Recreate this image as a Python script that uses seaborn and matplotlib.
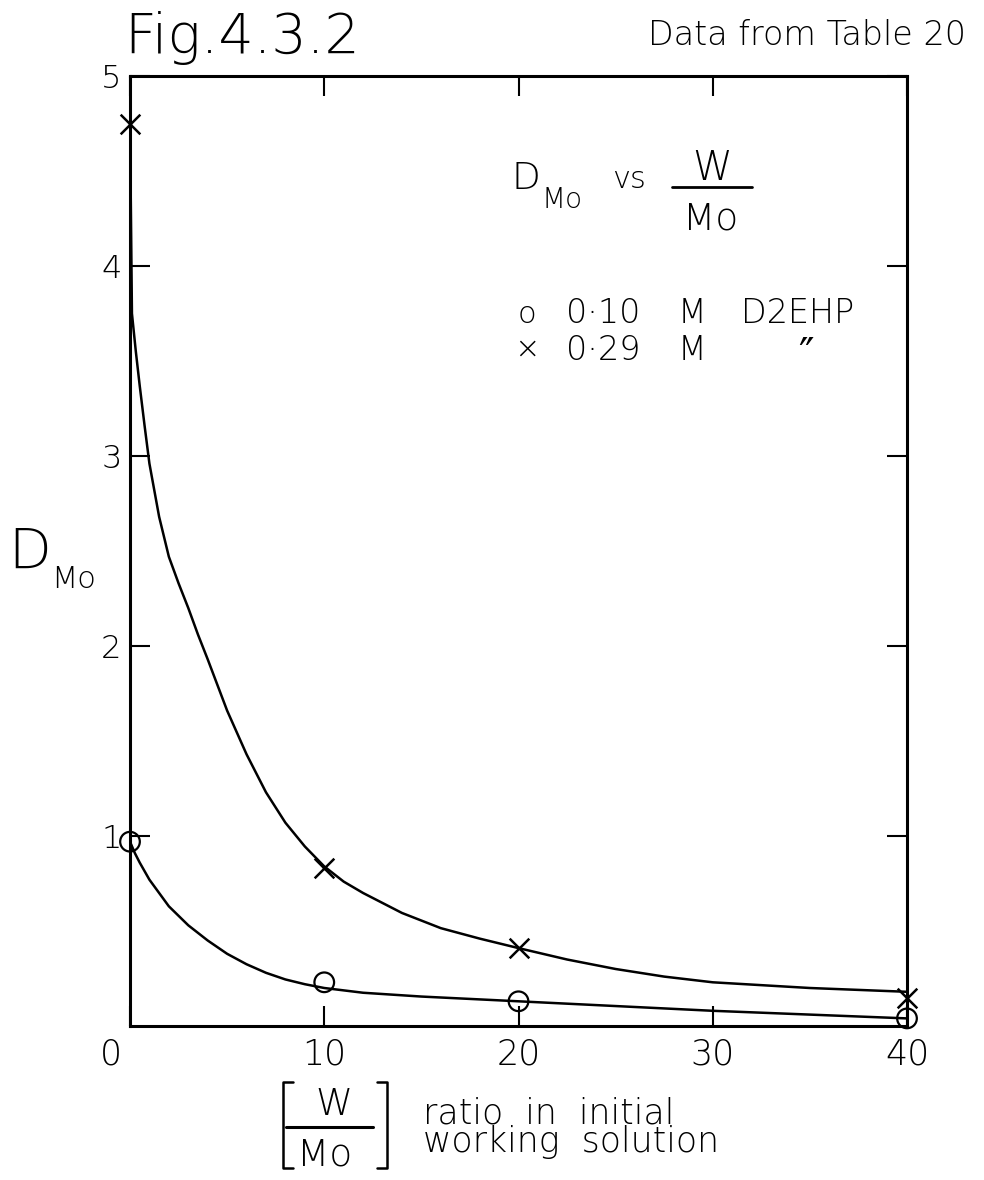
import numpy as np
import pandas as pd
import matplotlib
matplotlib.use("Agg")
import matplotlib.pyplot as plt
from matplotlib.lines import Line2D
import matplotlib.transforms as mtransforms
import seaborn as sns

# ---- data ----
ratio = [0, 10, 20, 40]
d_010 = [0.97, 0.23, 0.13, 0.04]   # o  0.10 M D2EHP
d_029 = [4.75, 0.83, 0.41, 0.15]   # x  0.29 M D2EHP

# hand-drawn fitted curves
curve_hi_x = [0, 0.1, 0.3, 0.5, 0.75, 1, 1.5, 2, 2.5, 3, 3.5, 4, 5, 6, 7, 8, 9, 10,
              11, 12, 14, 16, 18, 20, 22.5, 25, 27.5, 30, 35, 40]
curve_hi_y = [4.75, 3.75, 3.55, 3.37, 3.16, 2.96, 2.68, 2.47, 2.33, 2.2, 2.06, 1.93,
              1.66, 1.43, 1.23, 1.07, 0.945, 0.84, 0.76, 0.70, 0.595, 0.515, 0.46,
              0.41, 0.35, 0.30, 0.26, 0.23, 0.20, 0.18]
curve_lo_x = [0, 0.25, 0.5, 1, 1.5, 2, 2.5, 3, 4, 5, 6, 7, 8, 9, 10, 12, 15, 20, 25,
              30, 35, 40]
curve_lo_y = [0.97, 0.91, 0.86, 0.77, 0.70, 0.63, 0.58, 0.53, 0.45, 0.38, 0.325,
              0.28, 0.245, 0.22, 0.20, 0.175, 0.155, 0.13, 0.105, 0.08, 0.06, 0.04]

x_ticks = [0, 10, 20, 30, 40]
y_ticks = [1, 2, 3, 4, 5]

# ---- style ----
sns.set_style("ticks")
plt.rcParams["font.family"] = ["DejaVu Sans"]
plt.rcParams["text.color"] = "black"
plt.rcParams["xtick.color"] = "black"
plt.rcParams["ytick.color"] = "black"

W, H = 984, 1180
fig = plt.figure(figsize=(W / 100, H / 100), dpi=100)

def fx(px):
    return px / W

def fy(py):
    return 1 - py / H

ax = fig.add_axes([fx(130), fy(1026), (907 - 130) / W, (1026 - 76) / H])

pts = pd.DataFrame({"ratio": ratio * 2,
                    "D": d_010 + d_029,
                    "series": ["0.10 M"] * 4 + ["0.29 M"] * 4})
c_hi = pd.DataFrame({"ratio": curve_hi_x, "D": curve_hi_y})
c_lo = pd.DataFrame({"ratio": curve_lo_x, "D": curve_lo_y})

sns.lineplot(data=c_hi, x="ratio", y="D", color="black", linewidth=1.8, ax=ax,
             estimator=None, sort=False)
sns.lineplot(data=c_lo, x="ratio", y="D", color="black", linewidth=1.8, ax=ax,
             estimator=None, sort=False)
sns.scatterplot(data=pts[pts.series == "0.10 M"], x="ratio", y="D", marker="o",
                s=200, facecolors="none", edgecolor="black", linewidth=1.6,
                ax=ax, clip_on=False, zorder=5)
sns.scatterplot(data=pts[pts.series == "0.29 M"], x="ratio", y="D", marker="x",
                s=200, color="black", linewidth=1.8, ax=ax, clip_on=False, zorder=5)

ax.set_xlim(0, 40)
ax.set_ylim(0, 5)
ax.set_xticks(x_ticks)
ax.set_yticks(y_ticks)
ax.set_xticklabels([str(v) for v in x_ticks], fontsize=25, fontweight="light")
ax.set_yticklabels([str(v) for v in y_ticks], fontsize=23, fontweight="light")
ax.tick_params(axis="both", direction="in", length=14.5, width=1.5,
               top=True, right=True, color="black", labelcolor="black")
ax.tick_params(axis="x", pad=8)
ax.tick_params(axis="y", pad=6)
for sp in ax.spines.values():
    sp.set_visible(True)
    sp.set_linewidth(2.2)
    sp.set_color("black")
ax.set_xlabel("")
ax.set_ylabel("")
ax.grid(False)

# shift the "0" x tick label to the left
lbl0 = ax.get_xticklabels()[0]
lbl0.set_transform(lbl0.get_transform() +
                   mtransforms.ScaledTranslation(-19 / 100, 0, fig.dpi_scale_trans))

LW = "light"

# ---- texts ----
fig.text(fx(124), fy(53), "Fig.4.3.2", fontsize=40, ha="left", va="baseline", fontweight=LW)
fig.text(fx(966), fy(45), "Data from Table 20", fontsize=24, ha="right", va="baseline",
         fontweight=LW)

# D_Mo vs W/Mo
fig.text(fx(511), fy(189), "D", fontsize=27, ha="left", va="baseline", fontweight=LW)
fig.text(fx(541), fy(208), "Mo", fontsize=20, ha="left", va="baseline", fontweight=LW)
fig.text(fx(612), fy(188), "vs", fontsize=22, ha="left", va="baseline", fontweight=LW)
fig.text(fx(712), fy(180), "W", fontsize=29, ha="center", va="baseline", fontweight=LW)
fig.add_artist(Line2D([fx(672), fx(752)], [fy(187), fy(187)], color="black", lw=2,
                      transform=fig.transFigure))
fig.text(fx(711), fy(230), "Mo", fontsize=27, ha="center", va="baseline", fontweight=LW)

# legend
fig.text(fx(527), fy(323), "o", fontsize=22, ha="center", va="baseline", fontweight=LW)
fig.text(fx(566), fy(323), "0·10", fontsize=24, ha="left", va="baseline", fontweight=LW)
fig.text(fx(678), fy(323), "M", fontsize=24, ha="left", va="baseline", fontweight=LW)
fig.text(fx(741), fy(323), "D2EHP", fontsize=24, ha="left", va="baseline", fontweight=LW)
fig.text(fx(527), fy(358), "×", fontsize=22, ha="center", va="baseline", fontweight=LW)
fig.text(fx(566), fy(360), "0·29", fontsize=24, ha="left", va="baseline", fontweight=LW)
fig.text(fx(678), fy(360), "M", fontsize=24, ha="left", va="baseline", fontweight=LW)
fig.text(fx(806), fy(368), "\u2033", fontsize=30, ha="center", va="baseline",
         family=["DejaVu Sans"], fontweight="normal")

# y label D_Mo
fig.text(fx(8), fy(568), "D", fontsize=40, ha="left", va="baseline", fontweight=LW)
fig.text(fx(51), fy(588), "Mo", fontsize=22, ha="left", va="baseline", fontweight=LW)

# x label [W/Mo] ratio in initial working solution
for xs, ys in ([[293, 283, 283, 293], [1082, 1082, 1168, 1168]],
               [[377, 387, 387, 377], [1082, 1082, 1168, 1168]]):
    fig.add_artist(Line2D([fx(v) for v in xs], [fy(v) for v in ys], color="black",
                          lw=1.8, transform=fig.transFigure))
fig.text(fx(334), fy(1115), "W", fontsize=27, ha="center", va="baseline", fontweight=LW)
fig.add_artist(Line2D([fx(286), fx(373)], [fy(1127), fy(1127)], color="black", lw=2.2,
                      transform=fig.transFigure))
fig.text(fx(325), fy(1165), "Mo", fontsize=27, ha="center", va="baseline", fontweight=LW)
fig.text(fx(423), fy(1152), "ratio  in  initial\nworking  solution", fontsize=25,
         ha="left", va="baseline", linespacing=0.8, fontweight=LW)

fig.savefig("out.png", dpi=100, facecolor="white")
